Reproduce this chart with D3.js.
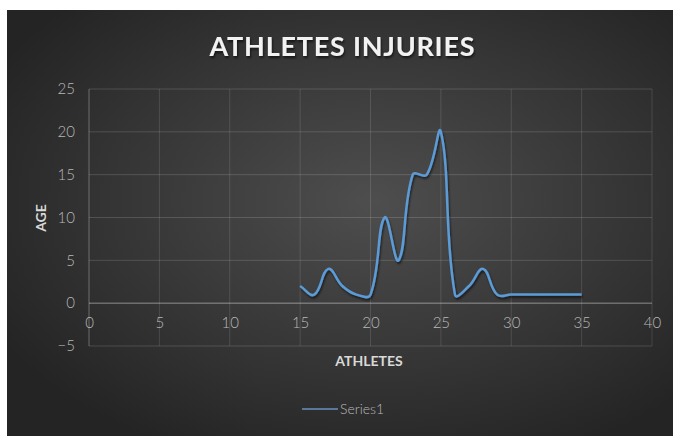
<!DOCTYPE html>
<html>
<head>
<meta charset="utf-8">
<script src="https://cdn.jsdelivr.net/npm/d3@7"></script>
<style>
  body { margin: 0; background: #fff; }
  svg { display: block; }
</style>
</head>
<body>
<svg class="chart"></svg>
<script>
// data
const athletes = [15, 16, 17, 18, 19, 20, 21, 22, 23, 24, 25, 26, 27, 28, 29, 30, 31, 32, 33, 34, 35];
const ages     = [2, 1, 4, 2, 1, 1, 10, 5, 15, 15, 20, 1, 2, 4, 1, 1, 1, 1, 1, 1, 1];
const xTicks = [0, 5, 10, 15, 20, 25, 30, 35, 40];
const yTicks = [-5, 0, 5, 10, 15, 20, 25];
const seriesName = "Series1";

const W = 673, H = 436;
const margin = { top: 89, right: 21, bottom: 90, left: 89 },
      width = W - margin.left - margin.right,
      height = H - margin.top - margin.bottom;

// office-style smoothing: catmull-rom tangent, handles split by neighbouring segment lengths
function smoothCurve(context) {
    let pts = [];
    const f = 0.42;
    return {
        areaStart() {}, areaEnd() {},
        lineStart() { pts = []; },
        point(x, y) { pts.push([x, y]); },
        lineEnd() {
            const n = pts.length;
            if (!n) return;
            context.moveTo(pts[0][0], pts[0][1]);
            const dist = (a, b) => Math.hypot(b[0] - a[0], b[1] - a[1]);
            // handles [in, out] for each point
            const handles = pts.map((p, i) => {
                const a = pts[Math.max(i - 1, 0)], b = pts[Math.min(i + 1, n - 1)];
                const dIn = dist(a, p), dOut = dist(p, b), sum = (dIn + dOut) || 1;
                const tx = b[0] - a[0], ty = b[1] - a[1];
                return [
                    [p[0] - f * tx * dIn / sum, p[1] - f * ty * dIn / sum],
                    [p[0] + f * tx * dOut / sum, p[1] + f * ty * dOut / sum]
                ];
            });
            for (let i = 0; i < n - 1; i++) {
                const c1 = handles[i][1], c2 = handles[i + 1][0], q = pts[i + 1];
                context.bezierCurveTo(c1[0], c1[1], c2[0], c2[1], q[0], q[1]);
            }
        }
    };
}

const svg = d3.select(".chart")
    .attr("width", W)
    .attr("height", H);

const defs = svg.append("defs");
const grad = defs.append("radialGradient")
    .attr("id", "bg")
    .attr("cx", "55%").attr("cy", "45%").attr("r", "65%");
grad.append("stop").attr("offset", "0%").attr("stop-color", "#4e4e4e");
grad.append("stop").attr("offset", "100%").attr("stop-color", "#242424");

const shadow = defs.append("filter").attr("id", "shadow")
    .attr("x", "-10%").attr("y", "-10%").attr("width", "120%").attr("height", "130%");
shadow.append("feDropShadow")
    .attr("dx", 1).attr("dy", 2).attr("stdDeviation", 1.2)
    .attr("flood-color", "#000").attr("flood-opacity", 0.6);

// background panel (white strip top and left like the source)
svg.append("rect")
    .attr("x", 7).attr("y", 10)
    .attr("width", W - 7).attr("height", H - 10)
    .attr("fill", "url(#bg)");

svg.append("text")
    .attr("x", 342).attr("y", 56)
    .attr("text-anchor", "middle")
    .attr("font-family", "Lato, 'Open Sans', sans-serif")
    .attr("font-weight", "bold")
    .attr("font-size", 27)
    .attr("fill", "#f2f2f2")
    .attr("textLength", 265)
    .attr("lengthAdjust", "spacing")
    .attr("filter", "url(#shadow)")
    .text("ATHLETES INJURIES");

const g = svg.append("g")
    .attr("transform", `translate(${margin.left}, ${margin.top})`);

const x = d3.scaleLinear()
    .domain([0, 40])
    .range([0, width]);

const y = d3.scaleLinear()
    .domain([-5, 25])
    .range([height, 0]);

// gridlines
g.append("g")
    .selectAll("line")
    .data(yTicks)
    .enter().append("line")
    .attr("x1", 0).attr("x2", width)
    .attr("y1", d => y(d)).attr("y2", d => y(d))
    .attr("stroke", d => d === 0 ? "rgba(255,255,255,0.45)" : "rgba(255,255,255,0.15)")
    .attr("stroke-width", 1);

g.append("g")
    .selectAll("line")
    .data(xTicks)
    .enter().append("line")
    .attr("x1", d => x(d)).attr("x2", d => x(d))
    .attr("y1", 0).attr("y2", height)
    .attr("stroke", d => d === 0 ? "rgba(255,255,255,0.3)" : "rgba(255,255,255,0.12)")
    .attr("stroke-width", 1);

// y tick labels
const yAxis = g.append("g")
    .call(d3.axisLeft(y).tickValues(yTicks).tickSize(0).tickPadding(14));
yAxis.select(".domain").remove();
yAxis.selectAll("text")
    .attr("font-family", "Lato, 'Open Sans', sans-serif")
    .attr("font-weight", 300)
    .attr("font-size", 15)
    .attr("fill", "#b8b8b8");

// x tick labels sit just below the zero line
const xAxis = g.append("g")
    .attr("transform", `translate(0, ${y(0)})`)
    .call(d3.axisBottom(x).tickValues(xTicks).tickSize(0).tickPadding(14));
xAxis.select(".domain").remove();
xAxis.selectAll("text")
    .attr("font-family", "Lato, 'Open Sans', sans-serif")
    .attr("font-weight", 300)
    .attr("font-size", 15)
    .attr("fill", "#b8b8b8");

// axis titles
svg.append("text")
    .attr("transform", "translate(46, 218) rotate(-90)")
    .attr("text-anchor", "middle")
    .attr("font-family", "Lato, 'Open Sans', sans-serif")
    .attr("font-weight", "bold")
    .attr("font-size", 14)
    .attr("fill", "#d9d9d9")
    .text("AGE");

svg.append("text")
    .attr("x", 369).attr("y", 366)
    .attr("text-anchor", "middle")
    .attr("font-family", "Lato, 'Open Sans', sans-serif")
    .attr("font-weight", "bold")
    .attr("font-size", 14)
    .attr("fill", "#d9d9d9")
    .text("ATHLETES");

// the smoothed line
const line = d3.line()
    .x((d, i) => x(athletes[i]))
    .y(d => y(d))
    .curve(smoothCurve);

g.append("path")
    .datum(ages)
    .attr("fill", "none")
    .attr("stroke", "#5b9bd5")
    .attr("stroke-width", 2.5)
    .attr("stroke-linejoin", "round")
    .attr("filter", "url(#shadow)")
    .attr("d", line);

// legend
const legend = svg.append("g").attr("transform", "translate(302, 409)");
legend.append("line")
    .attr("x1", 0).attr("x2", 36)
    .attr("y1", 0).attr("y2", 0)
    .attr("stroke", "#6a8fc0")
    .attr("stroke-width", 1.5);
legend.append("text")
    .attr("x", 38).attr("y", 5)
    .attr("font-family", "Lato, 'Open Sans', sans-serif")
    .attr("font-weight", 300)
    .attr("font-size", 14)
    .attr("fill", "#b8b8b8")
    .text(seriesName);
</script>
</body>
</html>
